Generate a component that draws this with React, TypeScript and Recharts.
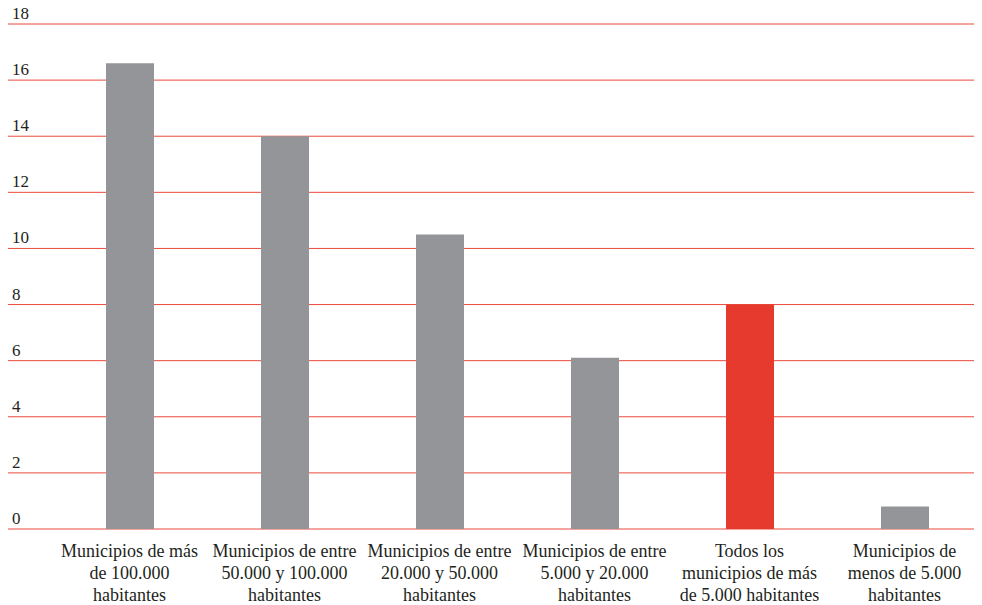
import { BarChart, Bar, XAxis, YAxis, CartesianGrid, Cell } from "recharts"

const categories = [
  "Municipios de más\nde 100.000\nhabitantes",
  "Municipios de entre\n50.000 y 100.000\nhabitantes",
  "Municipios de entre\n20.000 y 50.000\nhabitantes",
  "Municipios de entre\n5.000 y 20.000\nhabitantes",
  "Todos los\nmunicipios de más\nde 5.000 habitantes",
  "Municipios de\nmenos de 5.000\nhabitantes",
]
const values = [16.6, 14.0, 10.5, 6.1, 8.0, 0.8]
const highlighted = [false, false, false, false, true, false]
const yTicks = [0, 2, 4, 6, 8, 10, 12, 14, 16, 18]

const data = categories.map((name, i) => ({ name, value: values[i], hl: highlighted[i] }))

const FONT = "'Liberation Serif', 'DejaVu Serif', serif"
const TEXT = "#231f20"
const GRAY = "#939598"
const RED = "#e63a2e"
const GRID = "#eb4a3c"

const XTick = (props: any) => {
  const { x, y, payload } = props
  const lines = String(payload.value).split("\n")
  return (
    <text x={x} y={y} textAnchor="middle" fill={TEXT} fontFamily={FONT} fontSize={18}>
      {lines.map((l, i) => (
        <tspan key={i} x={x} dy={i === 0 ? 28 : 22}>{l}</tspan>
      ))}
    </text>
  )
}

const YTick = (props: any) => {
  const { y, payload } = props
  return (
    <text x={12} y={y - 5} textAnchor="start" fill={TEXT} fontFamily={FONT} fontSize={17}>
      {payload.value}
    </text>
  )
}

export default function App() {
  return (
    <div style={{ margin: "-8px 0 0 -8px" }}>
      <BarChart
        width={982}
        height={605}
        data={data}
        margin={{ top: 24, right: 0, bottom: 0, left: 7 }}
      >
        <CartesianGrid vertical={false} stroke={GRID} strokeWidth={1} />
        <XAxis
          dataKey="name"
          height={76}
          axisLine={false}
          tickLine={false}
          tickSize={0}
          tickMargin={0}
          interval={0}
          padding={{ left: 44, right: 0 }}
          tick={<XTick />}
        />
        <YAxis
          width={1}
          domain={[0, 18]}
          ticks={yTicks}
          axisLine={false}
          tickLine={false}
          tick={<YTick />}
        />
        <Bar dataKey="value" barSize={48} isAnimationActive={false}>
          {data.map((d, i) => (
            <Cell key={`cell-${i}`} fill={d.hl ? RED : GRAY} />
          ))}
        </Bar>
      </BarChart>
    </div>
  )
}
